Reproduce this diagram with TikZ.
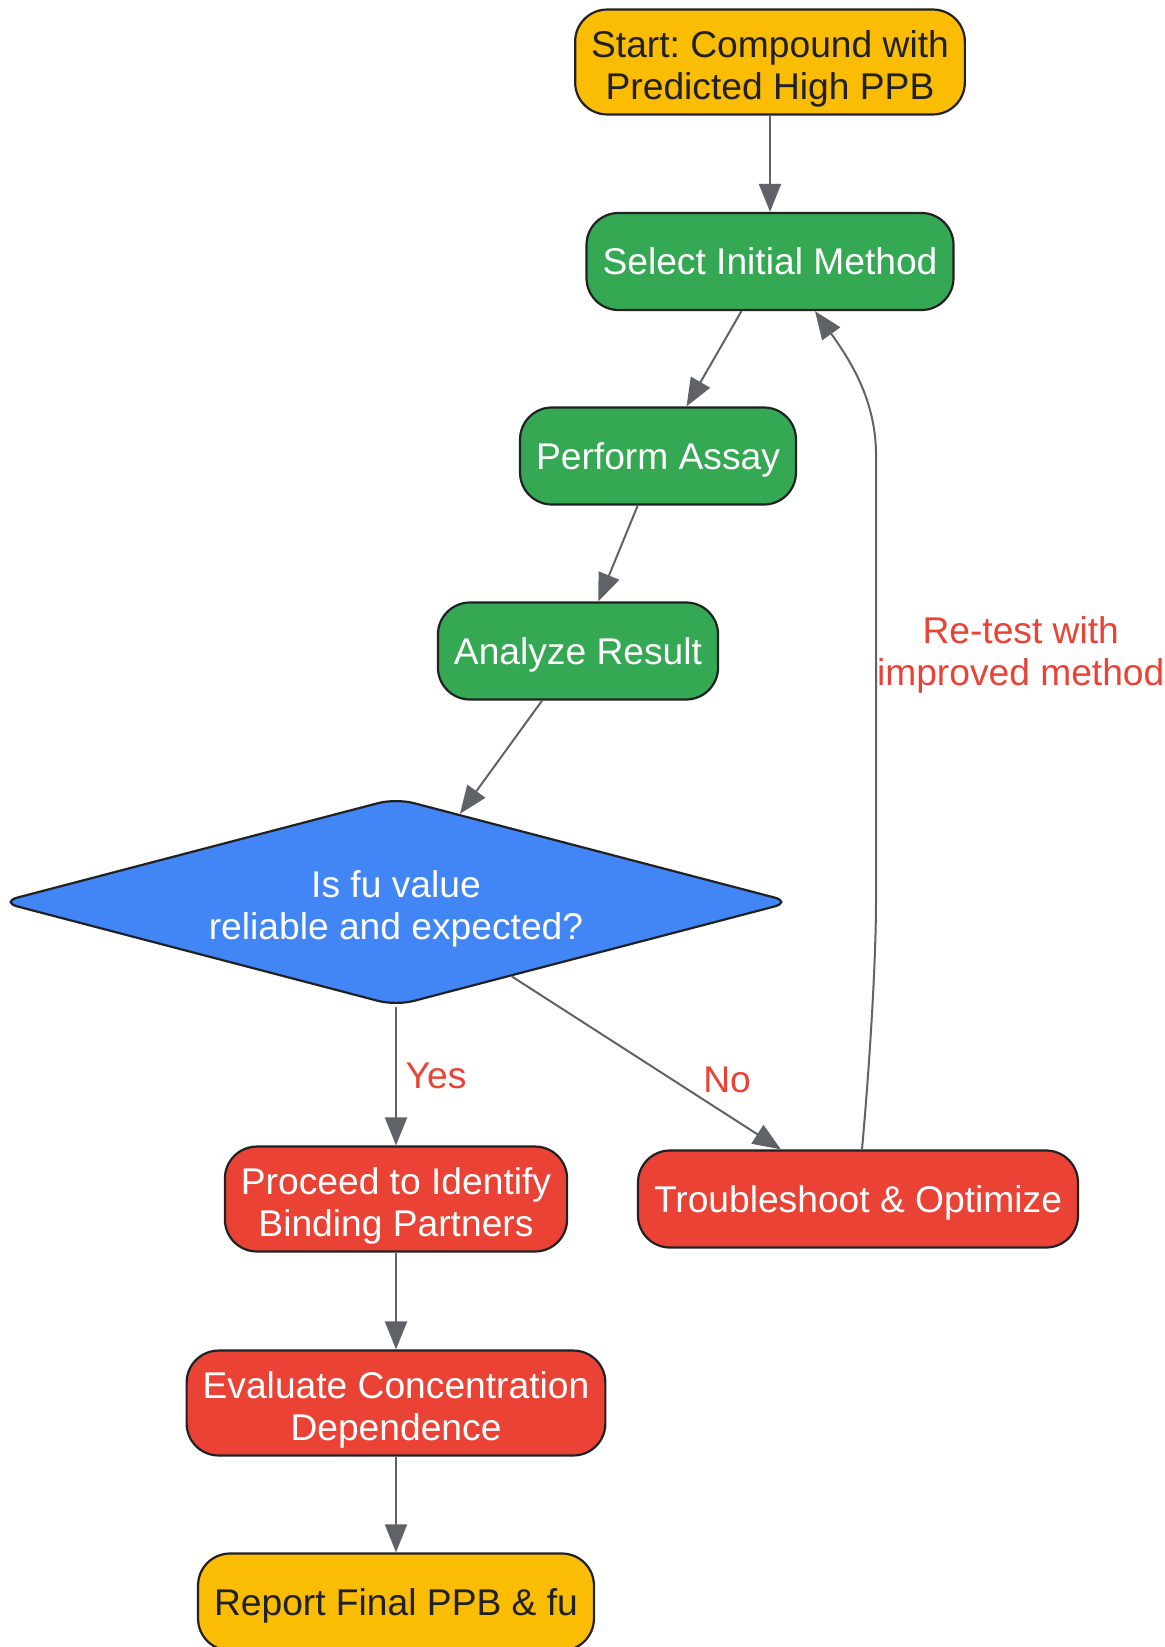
\documentclass[tikz,border=0pt]{standalone}
\usepackage{fontspec}
\setmainfont{Liberation Sans}
\frenchspacing
\usetikzlibrary{shapes.geometric,arrows.meta}
\definecolor{startyellow}{RGB}{251,188,4}
\definecolor{stepgreen}{RGB}{52,168,83}
\definecolor{checkblue}{RGB}{66,133,244}
\definecolor{fixred}{RGB}{234,67,53}
\definecolor{edgegray}{RGB}{95,99,104}
\definecolor{borderdark}{RGB}{32,33,36}

\begin{document}
\begin{tikzpicture}[x=0.5pt, y=-0.5pt,
  font=\fontsize{18.6}{21}\selectfont,
  box/.style={rectangle, rounded corners=16pt, draw=borderdark, line width=1.1pt,
    align=center, inner xsep=8pt, inner ysep=7pt, minimum height=48.5pt},
  oneline/.style={text depth=0pt},
  twoline/.style={text height=41pt, inner ysep=3.8pt},
  decision/.style={diamond, aspect=3.84, minimum width=396pt, minimum height=104pt,
    inner sep=0pt, text height=41pt, rounded corners=9pt, draw=borderdark, line width=1.1pt,
    fill=checkblue, text=white, align=center},
  edge/.style={draw=edgegray, line width=1pt, -{Triangle[length=14pt,width=11pt]}},
  edgelabel/.style={text=fixred, align=center}]
\useasboundingbox (0,0) rectangle (1165,1647);

% Start / end
\node[box, twoline, fill=startyellow, text=borderdark] (start) at (770,62) {Start: Compound with\\Predicted High PPB};
\node[box, oneline, fill=startyellow, text=borderdark] (report) at (396,1602) {Report Final PPB \& fu};

% Assay steps
\node[box, oneline, fill=stepgreen, text=white] (select) at (770,261.5) {Select Initial Method};
\node[box, oneline, fill=stepgreen, text=white] (perform) at (658,456) {Perform Assay};
\node[box, oneline, fill=stepgreen, text=white] (analyze) at (578,651) {Analyze Result};

% Decision
\node[decision] (check) at (396,902) {Is fu value\\reliable and expected?};

% Follow-up
\node[box, twoline, fill=fixred, text=white] (proceed) at (396,1199) {Proceed to Identify\\Binding Partners};
\node[box, oneline, fill=fixred, text=white] (trouble) at (858,1199) {Troubleshoot \& Optimize};
\node[box, twoline, fill=fixred, text=white] (evaluate) at (396,1403) {Evaluate Concentration\\Dependence};

% Connections
\draw[edge] (start) -- (select);
\draw[edge] (select) -- (perform);
\draw[edge] (perform) -- (analyze);
\draw[edge] (analyze) -- (check);
\draw[edge] (check) -- node[pos=0.5, right=1pt, edgelabel] {Yes} (proceed);
\draw[edge] (check) -- node[pos=0.8, above=7pt, edgelabel] {No} (trouble);
\draw[edge] ([xshift=2pt]trouble.north) .. controls (870,1060) and (876,960) .. (876,900)
  -- node[pos=0.55, anchor=west, inner xsep=0pt, edgelabel] {Re-test with\\improved method} (876,455)
  .. controls (876,400) and (850,360) .. ([xshift=22.5pt]select.south);
\draw[edge] (proceed) -- (evaluate);
\draw[edge] (evaluate) -- (report);
\end{tikzpicture}
\end{document}
